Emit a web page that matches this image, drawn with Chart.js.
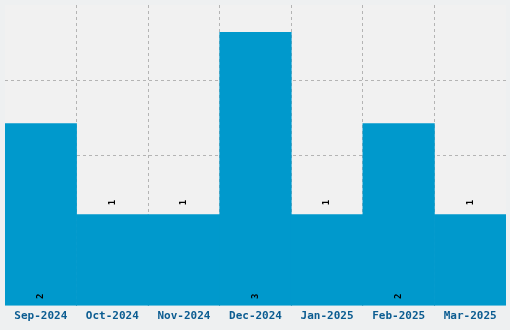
<!DOCTYPE html>
<html>
<head>
<meta charset="utf-8">
<script src="https://cdn.jsdelivr.net/npm/chart.js@4/dist/chart.umd.min.js"></script>
<style>
    body { margin: 0; background: #eef0f1; }
    #wrap { width: 510px; height: 330px; position: relative; }
</style>
</head>
<body>
<div id="wrap"><canvas id="monthChart"></canvas></div>
<script>
const months = ["Sep-2024", "Oct-2024", "Nov-2024", "Dec-2024", "Jan-2025", "Feb-2025", "Mar-2025"];
const counts = [2, 1, 1, 3, 1, 2, 1];
const yTicks = [0, 0.825, 1.65, 2.475, 3.3];

// plot area background
const plotBg = {
    id: 'plotBg',
    beforeDraw(chart) {
        const { ctx, chartArea: a } = chart;
        ctx.save();
        ctx.fillStyle = '#f1f1f1';
        ctx.fillRect(a.left, a.top, a.right - a.left, a.bottom - a.top);
        ctx.restore();
    }
};

// rotated value labels: small ones above the bar, bigger ones at the foot
const valueLabels = {
    id: 'valueLabels',
    afterDraw(chart) {
        const { ctx } = chart;
        const meta = chart.getDatasetMeta(0);
        ctx.save();
        ctx.fillStyle = '#000';
        ctx.font = 'bold 9px "DejaVu Sans Mono", monospace';
        ctx.textAlign = 'center';
        ctx.textBaseline = 'middle';
        meta.data.forEach((bar, i) => {
            const v = counts[i];
            const y = v <= 1 ? bar.y - 12 : bar.base - 9;
            ctx.save();
            ctx.translate(bar.x, y);
            ctx.rotate(-Math.PI / 2);
            ctx.fillText(String(v), 0, 0);
            ctx.restore();
        });
        ctx.restore();
    }
};

const gridCol = 'rgba(0,0,0,0.25)';
const edgeOff = (c) => (c.index === undefined || c.index === 0) ? 'rgba(0,0,0,0)' : gridCol;

new Chart(document.getElementById('monthChart'), {
    type: 'bar',
    data: {
        labels: months,
        datasets: [{
            data: counts,
            backgroundColor: '#0099cc',
            barPercentage: 1,
            categoryPercentage: 1
        }]
    },
    options: {
        responsive: true,
        maintainAspectRatio: false,
        animation: false,
        layout: { padding: { left: 5, right: 4, top: 5, bottom: 3 } },
        plugins: { legend: { display: false }, tooltip: { enabled: false } },
        scales: {
            x: {
                z: 1,
                border: { display: false, dash: [3, 3] },
                grid: { color: edgeOff, drawTicks: false, offset: true },
                ticks: {
                    color: '#0b5c91',
                    padding: 4,
                    maxRotation: 0,
                    font: { family: '"DejaVu Sans Mono", monospace', weight: 'bold', size: 11 }
                }
            },
            y: {
                z: 1,
                min: 0,
                max: 3.3,
                border: { display: false, dash: [3, 3] },
                afterBuildTicks: (scale) => { scale.ticks = yTicks.map(v => ({ value: v })); },
                grid: {
                    color: (c) => (c.index === 0 || c.index === yTicks.length - 1) ? 'rgba(0,0,0,0)' : gridCol,
                    drawTicks: false
                },
                ticks: { display: false }
            }
        }
    },
    plugins: [plotBg, valueLabels]
});
</script>
</body>
</html>
